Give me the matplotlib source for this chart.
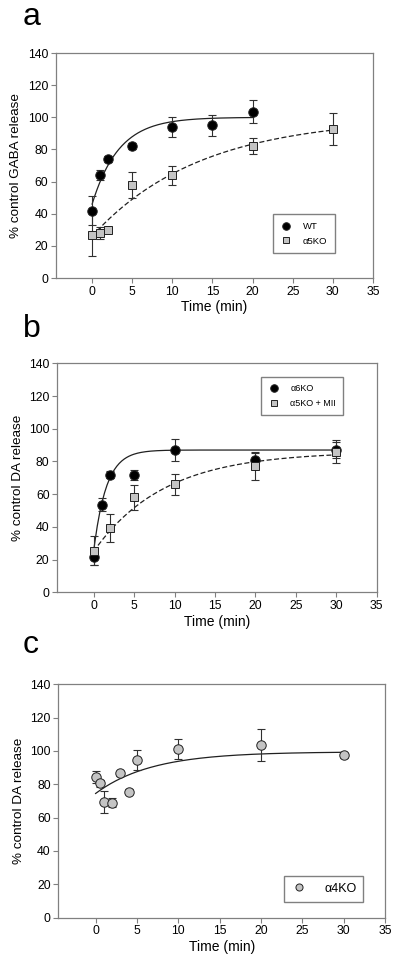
import numpy as np
import matplotlib.pyplot as plt

plt.rcParams["font.family"] = ["Liberation Sans", "DejaVu Sans"]

# Panel a: GABA release
gaba_t_wt = [0, 1, 2, 5, 10, 15, 20]
gaba_wt = [42, 64, 74, 82, 94, 95, 103.5]
gaba_wt_err = [9, 3, 2, 2, 6, 6.5, 7]
gaba_t_ko = [0, 1, 2, 5, 10, 20, 30]
gaba_ko = [27, 28, 30, 58, 64, 82, 93]
gaba_ko_err = [13.5, 3.7, 2, 8, 6, 5, 10]

# Panel b: DA release
da_t_a6 = [0, 1, 2, 5, 10, 20, 30]
da_a6 = [21.5, 53.5, 72, 71.5, 87, 81, 87]
da_a6_err = [5, 4, 2, 3, 6.5, 4, 5]
da_t_mii = [0, 2, 5, 10, 20, 30]
da_mii = [25.5, 39.5, 58, 66, 77, 86]
da_mii_err = [9, 8.5, 7.5, 6.5, 8.5, 7]

# Panel c: DA release, a4KO
da_t_a4 = [0, 0.5, 1, 2, 3, 4, 5, 10, 20, 30]
da_a4 = [84.5, 80.5, 69.5, 69, 86.5, 75.5, 94.5, 101, 103.5, 97.5]
da_a4_err = [3.5, 2, 6.5, 2.6, 1.5, 1.5, 6, 6, 9.7, 1.5]

# single exponential fits: (plateau, span, rate, t_end)
fit_gaba_wt = (100, 54, 0.30, 20)
fit_gaba_ko = (100, 74, 0.0745, 30)
fit_da_a6 = (87, 62, 0.64, 30)
fit_da_mii = (86, 61, 0.115, 30)
fit_da_a4 = (99.5, 25, 0.148, 30)

SPINE = "#808080"
GREY = "#c4c4c4"


def fit_curve(ax, params, ls="-"):
    plateau, span, rate, t_end = params
    t = np.linspace(0, t_end, 200)
    ax.plot(t, plateau - span * np.exp(-rate * t), color="#202020", lw=0.9,
            ls=ls, dashes=(4, 2) if ls == "--" else (None, None), zorder=2)


def series(ax, t, y, err, marker, face, ms, label):
    ax.errorbar(t, y, yerr=err, fmt="none", ecolor="#303030", elinewidth=0.8,
                capsize=2.6, capthick=0.8, zorder=3)
    ax.plot(t, y, ls="none", marker=marker, ms=ms, mfc=face, mec="#202020",
            mew=0.7, label=label, zorder=4)


def style(ax, ylabel):
    ax.set_xlim(-4.5, 35)
    ax.set_ylim(0, 140)
    ax.set_xticks(range(0, 36, 5))
    ax.set_yticks(range(0, 141, 20))
    for s in ax.spines.values():
        s.set_color(SPINE)
        s.set_linewidth(0.9)
    ax.tick_params(direction="out", length=3.5, width=0.8, color=SPINE,
                   labelsize=8.8, pad=2)
    ax.set_xlabel("Time (min)", fontsize=10, labelpad=2)
    ax.set_ylabel(ylabel, fontsize=9.7, labelpad=4)


fig = plt.figure(figsize=(4, 9.68), dpi=100)

ax_a = fig.add_axes([0.14, 0.7128, 0.7925, 0.2324])
fit_curve(ax_a, fit_gaba_wt)
fit_curve(ax_a, fit_gaba_ko, "--")
series(ax_a, gaba_t_ko, gaba_ko, gaba_ko_err, "s", GREY, 5.6, "\u03b15KO")
series(ax_a, gaba_t_wt, gaba_wt, gaba_wt_err, "o", "black", 6.8, "WT")
style(ax_a, "% control GABA release")
h, l = ax_a.get_legend_handles_labels()
ax_a.legend(h[::-1], l[::-1], loc="lower right", bbox_to_anchor=(0.88, 0.11),
            borderaxespad=0, fontsize=6.8, fancybox=False, edgecolor=SPINE,
            framealpha=1, handletextpad=1.2, borderpad=0.8, labelspacing=0.6,
            handlelength=1.2, markerscale=0.8)

ax_b = fig.add_axes([0.143, 0.388, 0.799, 0.2367])
fit_curve(ax_b, fit_da_a6)
fit_curve(ax_b, fit_da_mii, "--")
series(ax_b, da_t_a6, da_a6, da_a6_err, "o", "black", 6.8, "\u03b16KO")
series(ax_b, da_t_mii, da_mii, da_mii_err, "s", GREY, 5.6, "\u03b15KO + MII")
style(ax_b, "% control DA release")
ax_b.legend(loc="upper right", bbox_to_anchor=(0.895, 0.94),
            borderaxespad=0, fontsize=6.5, fancybox=False, edgecolor=SPINE,
            framealpha=1, handletextpad=1.2, borderpad=0.8, labelspacing=0.6,
            handlelength=1.2, markerscale=0.8)

ax_c = fig.add_axes([0.146, 0.052, 0.8165, 0.2411])
fit_curve(ax_c, fit_da_a4)
series(ax_c, da_t_a4, da_a4, da_a4_err, "o", GREY, 6.8, "\u03b14KO")
style(ax_c, "% control DA release")
ax_c.legend(loc="lower right", bbox_to_anchor=(0.934, 0.069),
            borderaxespad=0, fontsize=9, fancybox=False, edgecolor=SPINE,
            framealpha=1, handletextpad=1.3, borderpad=0.55, handlelength=1.4,
            markerscale=0.75)

for letter, y in [("a", 0.9742), ("b", 0.6522), ("c", 0.3257)]:
    fig.text(0.057, y, letter, fontsize=23, va="baseline", ha="left")

fig.savefig("out.png", dpi=100)
